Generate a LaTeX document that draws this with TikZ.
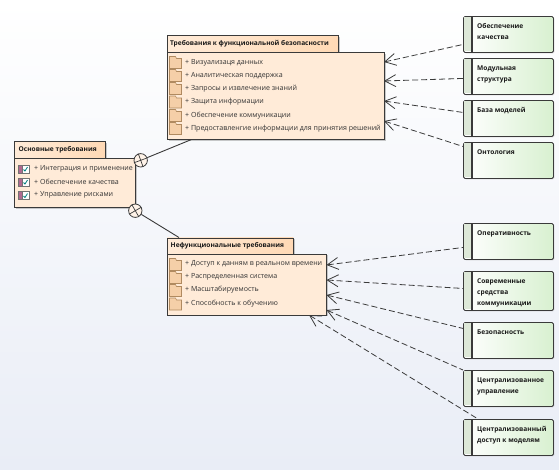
\documentclass[tikz,border=0pt]{standalone}
\usepackage{fontspec}
\setmainfont{Open Sans}
\usetikzlibrary{arrows.meta,shadows,shapes.misc,calc}
\definecolor{pkgfill}{HTML}{FFEBD8}
\definecolor{tabfill}{HTML}{FFD9B5}
\definecolor{edge}{HTML}{3A3A3A}
\definecolor{folder}{HTML}{F5CFA8}
\definecolor{folderedge}{HTML}{B08A60}
\definecolor{compfill}{HTML}{D8F0D0}
\definecolor{barfill}{HTML}{DDE8D8}
\definecolor{bgend}{HTML}{E9EDF6}
\tikzset{
  x=1pt,y=-1pt,
  pkgbody/.style={draw=edge,line width=.9pt,fill=pkgfill,inner sep=0pt,anchor=north west,
     drop shadow={shadow xshift=1.5pt,shadow yshift=-1.5pt,fill=black!35,opacity=.6}},
  pkgtab/.style={pkgbody,left color=pkgfill,right color=tabfill},
  pkgtitle/.style={anchor=west,inner sep=0pt,font=\fontsize{6.6}{8}\selectfont\bfseries,text=black!90},
  member/.style={anchor=west,inner sep=0pt,font=\fontsize{7.05}{8}\selectfont,text=black!80},
  comp/.style={draw=edge,line width=.9pt,rounded corners=1.5pt,left color=white,right color=compfill,
     anchor=north west,inner sep=0pt,
     drop shadow={shadow xshift=1pt,shadow yshift=-1pt,fill=black!30,opacity=.5}},
  complabel/.style={anchor=north west,inner sep=0pt,align=left,
     font=\fontsize{6.6}{11}\selectfont\bfseries,text=black!90},
  dep/.style={draw=edge,line width=.8pt,dash pattern=on 6pt off 3pt,
     {Straight Barb[length=11pt,width=12pt,line width=.8pt]}-},
  assoc/.style={draw=edge,line width=.9pt},
  nest/.style={circle,draw=edge,line width=.8pt,fill=pkgfill!60!white,minimum size=13.4pt,inner sep=0pt},
  crossline/.style={draw=edge,line width=.7pt},
}
\newcommand{\pkgicon}[1]{%
  \draw[folderedge,line width=.6pt,fill=folder]
    ($(#1)+(0,-4.5)$) -- ++(0,-2) -- ++(6,0) -- ++(1,2) -- ++(5,0) -- ++(0,10) -- ++(-12,0) -- cycle;}
\newcommand{\tickicon}[1]{%
  \fill[magenta!55!black!75!white] ($(#1)+(0,-4)$) rectangle ++(4,8);
  \draw[black!55,line width=.5pt,fill=white] ($(#1)+(4,-4)$) rectangle ++(7,8);
  \draw[teal,line width=.8pt] ($(#1)+(5.5,.5)$) -- ++(1.5,1.5) -- ++(2.5,-4);
  \draw[black!55,line width=.5pt] ($(#1)+(0,-4)$) rectangle ++(11,8);}
\begin{document}
\begin{tikzpicture}
\useasboundingbox (0,0) rectangle (559,469);
\fill[top color=white,bottom color=bgend] (0,0) rectangle (559,469);

% main package
\node[pkgtab,minimum width=91pt,minimum height=17pt] (atab) at (14,141) {};
\node[pkgtitle] (atitle) at (18.5,150) {Основные требования};
\node[pkgbody,minimum width=121pt,minimum height=49pt] (abody) at (14,158) {};
\foreach \y/\t/\n in {169/Интеграция и применение/a,182/Обеспечение качества/b,195.5/Управление рисками/c}{
  \coordinate (ai\n) at (18,\y);
  \tickicon{ai\n}
  \node[member] (am\n) at (34,\y-.5) {+ \t};
}

% functional package
\node[pkgtab,minimum width=171pt,minimum height=17pt] (ftab) at (167,35) {};
\node[pkgtitle] (ftitle) at (170,43.5) {Требования к функциональной безопасности};
\node[pkgbody,minimum width=217pt,minimum height=87pt] (fbody) at (167,52) {};
\foreach \y/\t/\n in {61/Визуализаця данных/a,74/Аналитическая поддержка/b,87/Запросы и извлечение знаний/c,100.5/Защита информации/d,114/Обеспечение коммуникации/e,127/Предоставленгие информации для принятия решений/f}{
  \coordinate (fi\n) at (169.5,\y+2);
  \pkgicon{fi\n}
  \node[member] (fm\n) at (185,\y+1.5) {+ \t};
}

% nonfunctional package
\node[pkgtab,minimum width=126pt,minimum height=16pt] (ntab) at (167,237.5) {};
\node[pkgtitle] (ntitle) at (170.5,245.5) {Нефункциональные требования};
\node[pkgbody,minimum width=159pt,minimum height=61pt] (nbody) at (167,253.5) {};
\foreach \y/\t/\n in {263/Доступ к данням в реальном времени/a,276/Распределенная система/b,289/Масштабируемость/c,302.5/Способность к обучению/d}{
  \coordinate (ni\n) at (169.5,\y+2);
  \pkgicon{ni\n}
  \node[member] (nm\n) at (185,\y+1) {+ \t};
}

% right-hand elements
\foreach \n/\y/\h/\t in {
  c1/16/36/{Обеспечение\\качества},
  c2/58/36/{Модульная\\структура},
  c3/100/36/{База моделей},
  c4/142/36/{Онтология},
  d1/223/36/{Оперативность},
  d2/271/39/{Современные\\средства\\коммуникации},
  d3/322/36/{Безопасность},
  d4/370/36/{Централизованное\\управление},
  d5/419/36/{Централизованный\\доступ к моделям}}{
  \node[comp,minimum width=90pt,minimum height=\h pt] (\n) at (463,\y) {};
  \fill[barfill] (464,\y+.6) rectangle (471.5,\y+\h-.6);
  \draw[edge,line width=1.7pt] (472,\y) -- (472,\y+\h);
  \node[complabel] (\n t) at (477,\y+7.5) {\t};
}

% nesting connectors
\node[nest] (n1) at (140.7,160.3) {};
\node[nest] (n2) at (135.3,210.7) {};
\coordinate (f1) at (191.5,139.5);
\coordinate (f2) at (179,237.5);
\draw[assoc] (n1) -- (f1);
\draw[assoc] (n2) -- (f2);
\draw[crossline] (n1.110) -- (n1.290) (n1.20) -- (n1.200);
\draw[crossline] (n2.120) -- (n2.300) (n2.30) -- (n2.210);

% dependency ends
\coordinate (e1) at (384,62);
\coordinate (e2) at (384,81);
\coordinate (e3) at (384,101);
\coordinate (e4) at (384,121);
\coordinate (g1) at (326.5,265);
\coordinate (g2) at (326.5,280);
\coordinate (g3) at (326.5,295);
\coordinate (g4) at (326.5,310);
\coordinate (g5) at (309,315);
\draw[dep] (e1) -- ($(c1.west)+(0,10)$);
\draw[dep] (e2) -- ($(c2.west)+(0,2)$);
\draw[dep] (e3) -- ($(c3.west)+(0,-6)$);
\draw[dep] (e4) -- ($(c4.west)+(0,-14)$);
\draw[dep] (g1) -- ($(d1.west)+(0,6)$);
\draw[dep] (g2) -- ($(d2.west)+(0,-2.5)$);
\draw[dep] (g3) -- ($(d3.west)+(0,-12)$);
\draw[dep] (g4) -- (d4.north west);
\draw[dep] (g5) -- ($(d5.north west)+(15,0)$);
\end{tikzpicture}
\end{document}
